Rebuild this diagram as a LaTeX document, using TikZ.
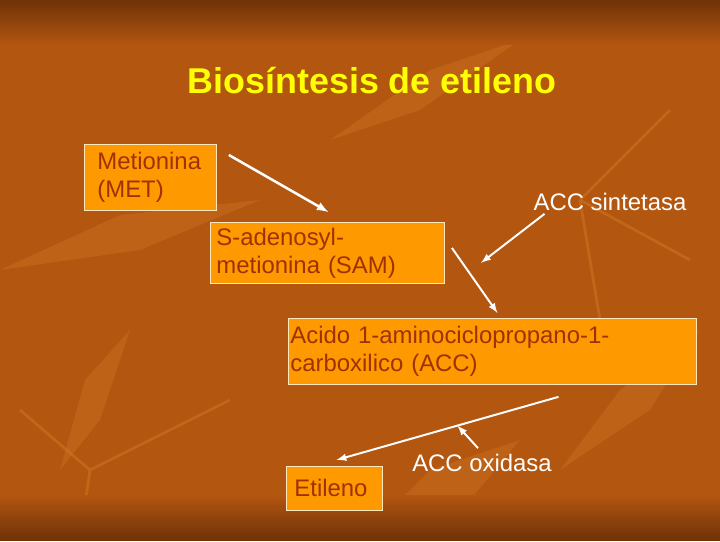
\documentclass[tikz,border=0pt]{standalone}
\usepackage{fontspec}
\setmainfont{Liberation Sans}
\usepackage{xcolor}
\usetikzlibrary{arrows,positioning}

\definecolor{bgbrown}{RGB}{178,86,16}
\definecolor{bgdark}{RGB}{112,50,8}
\definecolor{bgleaf}{RGB}{214,122,38}
\definecolor{boxorange}{RGB}{255,153,0}
\definecolor{boxtext}{RGB}{158,50,4}
\definecolor{boxline}{RGB}{255,232,190}
\definecolor{titleyellow}{RGB}{255,255,0}

\begin{document}
\begin{tikzpicture}[
        x=0.025cm, y=-0.025cm, >=latex,
        font=\fontsize{17}{20}\selectfont,
        compound/.style={rectangle, draw=boxline, line width=0.6pt, fill=boxorange, text=boxtext, align=left, anchor=north west, inner ysep=0pt},
        enzyme/.style={text=white, inner sep=2pt},
        title/.style={text=titleyellow, font=\fontsize{25.5}{30}\selectfont\bfseries},
        flow/.style={->, draw=white, line width=1.4pt},
        leaf/.style={fill=bgleaf, opacity=0.35}
    ]
        % background
        \fill[bgbrown] (0,0) rectangle (720,540);
        \fill[leaf] (0,270) -- (120,215) -- (260,200) -- (140,250) -- cycle;
        \fill[leaf] (60,470) -- (85,380) -- (130,330) -- (100,420) -- cycle;
        \fill[leaf] (330,140) -- (430,70) -- (520,40) -- (420,110) -- cycle;
        \fill[leaf] (560,470) -- (620,390) -- (700,330) -- (650,410) -- cycle;
        \fill[leaf] (380,520) -- (430,470) -- (520,440) -- (470,500) -- cycle;
        \draw[bgleaf, opacity=0.45, line width=2pt] (20,410) -- (90,470) (90,470) -- (230,400) (90,470) -- (80,540);
        \draw[bgleaf, opacity=0.45, line width=2pt] (580,200) -- (670,110) (580,200) -- (690,260) (580,200) -- (610,380);
        \shade[top color=bgdark, bottom color=bgbrown] (0,0) rectangle (720,45);
        \shade[top color=bgbrown, bottom color=bgdark] (0,495) rectangle (720,540);
        \useasboundingbox (0,0) rectangle (720,540);

        \node[title] (title) at (372,81) {Biosíntesis de etileno};

        \node[compound, text width=2.65cm, inner xsep=0.325cm, minimum height=1.65cm] (met) at (84,144) {Metionina\\(MET)};
        \node[compound, text width=5.55cm, inner xsep=0.15cm, minimum height=1.525cm] (sam) at (210,222) {S-adenosyl-\\metionina (SAM)};
        \node[compound, text width=10.1cm, inner xsep=0.05cm, minimum height=1.65cm] (acc) at (288,318) {Acido 1-aminociclopropano-1-\\carboxilico (ACC)};
        \node[compound, text width=2cm, inner xsep=0.2cm, minimum height=1.1cm] (eti) at (286,466) {Etileno};

        \node[enzyme] (sint) at (610,202) {ACC sintetasa};
        \node[enzyme] (oxi) at (482,463) {ACC oxidasa};

        \draw[flow, line width=1.8pt] ([shift={(12,11)}]met.north east) -- ([shift={(1,-10)}]sam.north);
        \draw[flow] ([shift={(14,0)}]sint.south west) -- ([shift={(36,10)}]sam.east);
        \draw[flow] ([shift={(7,-5)}]sam.east) -- ([shift={(5,-5)}]acc.north);
        \draw[flow] ([shift={(66,12)}]acc.south) -- coordinate[pos=0.455] (hit) ([shift={(2,-6)}]eti.north);
        \draw[flow] ([shift={(-4,-3)}]oxi.north) -- (hit);
    \end{tikzpicture}
\end{document}
